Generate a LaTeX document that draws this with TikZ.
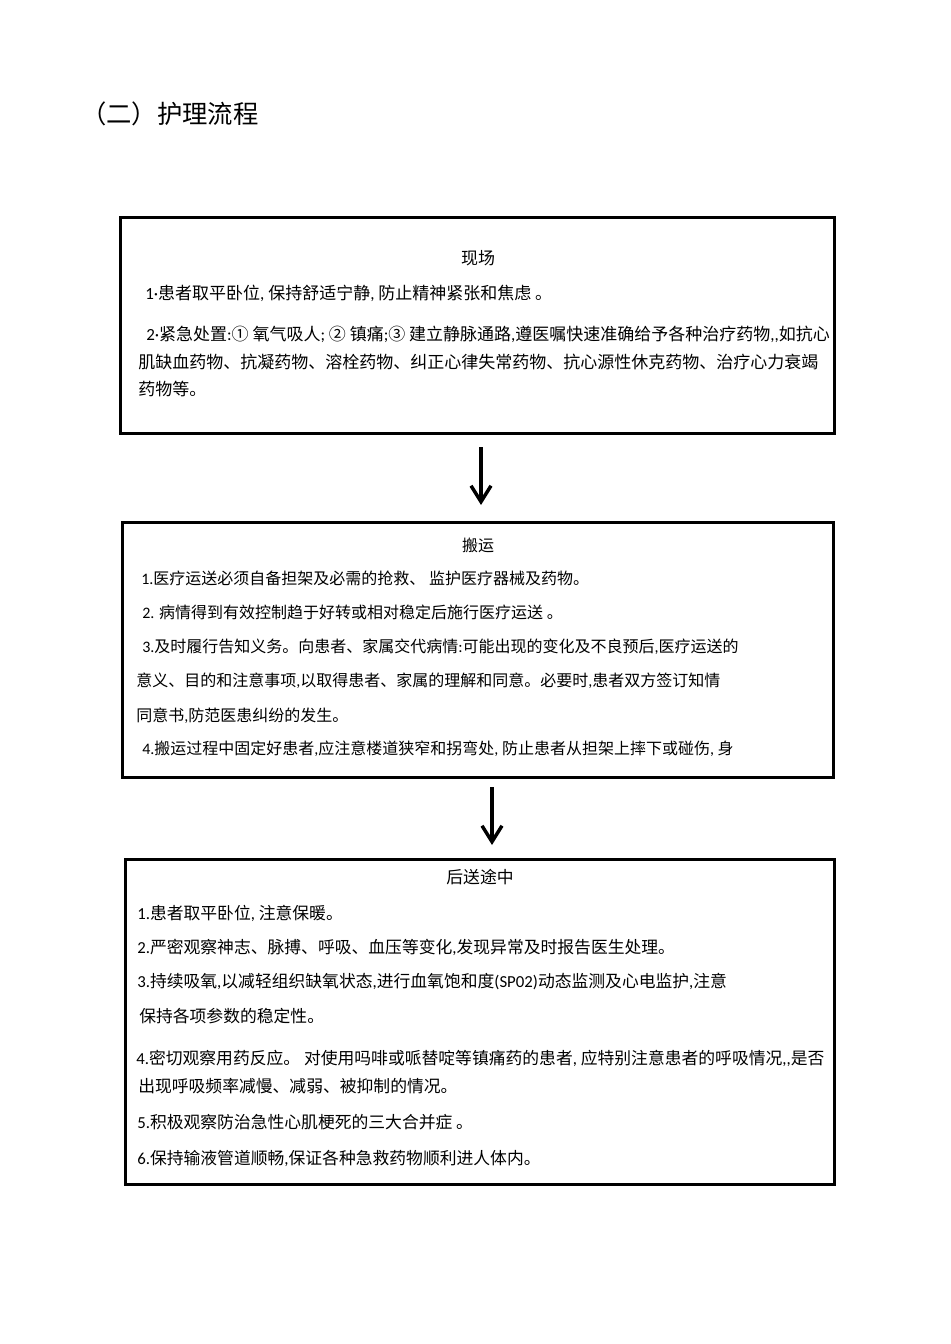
\documentclass[tikz,border=0pt]{standalone}
\usepackage{fontspec}
\setmainfont{Noto Sans CJK SC}
\newfontfamily\enfont{Carlito}
\newcommand\lat[1]{{\enfont #1}}
\usetikzlibrary{arrows.meta,calc}
\begin{document}
\begin{tikzpicture}[x=0.75pt,y=-0.75pt,
  stagebox/.style={draw,line width=2.25pt,inner sep=0pt},
  line/.style={anchor=west,inner sep=0pt,font=\fontsize{#1}{#1}\selectfont},
  head/.style={inner sep=0pt,font=\fontsize{#1}{#1}\selectfont},
  flow/.style={line width=2.6pt,-{Straight Barb[length=12pt,width=15pt]}}]
\useasboundingbox (0,0) rectangle (950,1344);
\node[anchor=west,inner sep=0pt,font=\fontsize{19pt}{22pt}\selectfont] (title) at (81,114) {（二）护理流程};
\node[stagebox,minimum width=535.5pt,minimum height=162pt] (scene) at (477.5,325.5) {};
\node[stagebox,minimum width=533.25pt,minimum height=191.25pt] (transfer) at (478,650) {};
\node[stagebox,minimum width=531.75pt,minimum height=243.75pt] (enroute) at (480,1022) {};
\node[head=12.75pt] (sceneh) at (478,258) {现场};
\node[line=12.75pt] (scene1) at (145,293) {\lat{1·}患者取平卧位\lat{, }保持舒适宁静\lat{, }防止精神紧张和焦虑\lat{ }。};
\node[line=12.75pt] (scene2) at (146,334) {\lat{2·}紧急处置\lat{:}①\lat{ }氧气吸人\lat{; }②\lat{ }镇痛\lat{;}③\lat{ }建立静脉通路\lat{,}遵医嘱快速准确给予各种治疗药物\lat{,,}如抗心};
\node[line=12.75pt] (scene3) at (138,362) {肌缺血药物、抗凝药物、溶栓药物、纠正心律失常药物、抗心源性休克药物、治疗心力衰竭};
\node[line=12.75pt] (scene4) at (138,389) {药物等。};
\node[head=12pt] (transferh) at (478,545) {搬运};
\node[line=12pt] (transfer1) at (141,578) {\lat{1.}医疗运送必须自备担架及必需的抢救、\lat{ }监护医疗器械及药物。};
\node[line=12pt] (transfer2) at (142,612) {\lat{2. }病情得到有效控制趋于好转或相对稳定后施行医疗运送\lat{ }。};
\node[line=12pt] (transfer3) at (142,647) {\lat{3.}及时履行告知义务。向患者、家属交代病情\lat{:}可能出现的变化及不良预后\lat{,}医疗运送的};
\node[line=12pt] (transfer4) at (136,681) {意义、目的和注意事项\lat{,}以取得患者、家属的理解和同意。必要时\lat{,}患者双方签订知情};
\node[line=12pt] (transfer5) at (136,716) {同意书\lat{,}防范医患纠纷的发生。};
\node[line=12pt] (transfer6) at (142,749) {\lat{4.}搬运过程中固定好患者\lat{,}应注意楼道狭窄和拐弯处\lat{, }防止患者从担架上摔下或碰伤\lat{, }身};
\node[head=12.6pt] (enrouteh) at (480,877) {后送途中};
\node[line=12.6pt] (enroute1) at (137,913) {\lat{1.}患者取平卧位\lat{, }注意保暖。};
\node[line=12.6pt] (enroute2) at (137,947) {\lat{2.}严密观察神志、脉搏、呼吸、血压等变化\lat{,}发现异常及时报告医生处理。};
\node[line=12.6pt] (enroute3) at (137,982) {\lat{3.}持续吸氧\lat{,}以减轻组织缺氧状态\lat{,}进行血氧饱和度\lat{(SP02)}动态监测及心电监护\lat{,}注意};
\node[line=12.6pt] (enroute4) at (139,1016) {保持各项参数的稳定性。};
\node[line=12.6pt] (enroute5) at (136,1058) {\lat{4.}密切观察用药反应。\lat{ }对使用吗啡或哌替啶等镇痛药的患者\lat{, }应特别注意患者的呼吸情况\lat{,,}是否};
\node[line=12.6pt] (enroute6) at (138,1086) {出现呼吸频率减慢、减弱、被抑制的情况。};
\node[line=12.6pt] (enroute7) at (137,1122) {\lat{5.}积极观察防治急性心肌梗死的三大合并症\lat{ }。};
\node[line=12.6pt] (enroute8) at (137,1158) {\lat{6.}保持输液管道顺畅\lat{,}保证各种急救药物顺利进人体内。};
\draw[flow] ($(scene.south)+(3.5,12)$) -- ($(transfer.north)+(3,-16)$);
\draw[flow] ($(transfer.south)+(14,8)$) -- ($(enroute.north)+(12,-13)$);
\end{tikzpicture}
\end{document}
